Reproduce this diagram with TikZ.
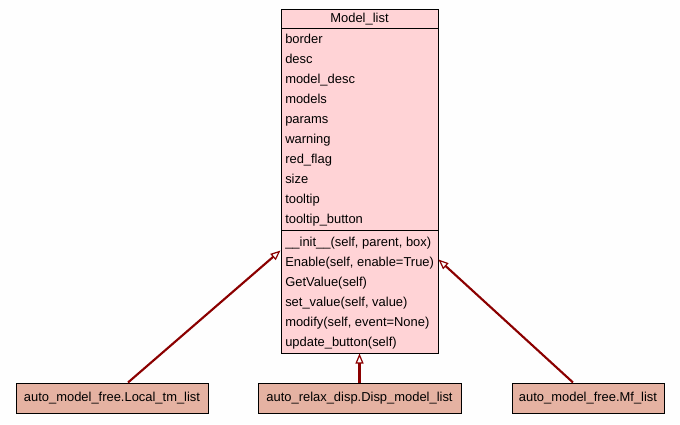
\documentclass[tikz,border=0pt]{standalone}
\usepackage{fontspec}
\setmainfont{Liberation Sans}
\usetikzlibrary{arrows.meta}
\definecolor{classpink}{HTML}{FFD3D6}
\definecolor{childbrown}{HTML}{E5B2A2}
\definecolor{edgered}{HTML}{8B0000}

\begin{document}
\begin{tikzpicture}
[x=0.75pt,y=-0.75pt,font=\fontsize{9.7}{11.5}\selectfont,
 part/.style={draw=black,fill=classpink,line width=0.75pt,minimum width=117.75pt,inner sep=0pt},
 member/.style={anchor=base west,inner sep=0pt},
 child/.style={draw=black,fill=childbrown,line width=0.75pt,minimum height=22.5pt,inner sep=0pt},
 inherit/.style={draw=edgered,line width=1.6pt,-{Triangle[open,length=7.5pt,width=6pt,line width=0.9pt]}}]
\useasboundingbox[fill=white!99.6!black] (0,0) rectangle (680,424);

% class box
\node[part,minimum height=14.25pt] (title) at (359.5,19.5) {Model\_list};
\node[part,minimum height=150.75pt] (attrs) at (359.5,129.5) {};
\node[part,minimum height=92.25pt] (meths) at (359.5,291.5) {};

\foreach \txt [count=\i from 0] in {border,desc,model\_desc,models,params,warning,red\_flag,size,tooltip,tooltip\_button}
\node[member] (a\i) at (285,43.5+20*\i) {\txt};

\foreach \txt [count=\i from 0] in {{\_\_init\_\_(self, parent, box)},{Enable(self, enable=True)},GetValue(self),{set\_value(self, value)},{modify(self, event=None)},update\_button(self)}
\node[member] (m\i) at (285,246.5+20*\i) {\txt};

% subclasses
\node[child,minimum width=144pt] (loc) at (112,398) {auto\_model\_free.Local\_tm\_list};
\node[child,minimum width=152.25pt] (disp) at (359.5,398) {auto\_relax\_disp.Disp\_model\_list};
\node[child,minimum width=114pt] (mf) at (588,398) {auto\_model\_free.Mf\_list};

\draw[inherit] ([xshift=12pt]loc.north) -- ([yshift=-15.75pt]meths.north west);
\draw[inherit] (disp.north) -- (meths.south);
\draw[inherit] ([xshift=-11.25pt]mf.north) -- ([yshift=-22.5pt]meths.north east);
\end{tikzpicture}
\end{document}
